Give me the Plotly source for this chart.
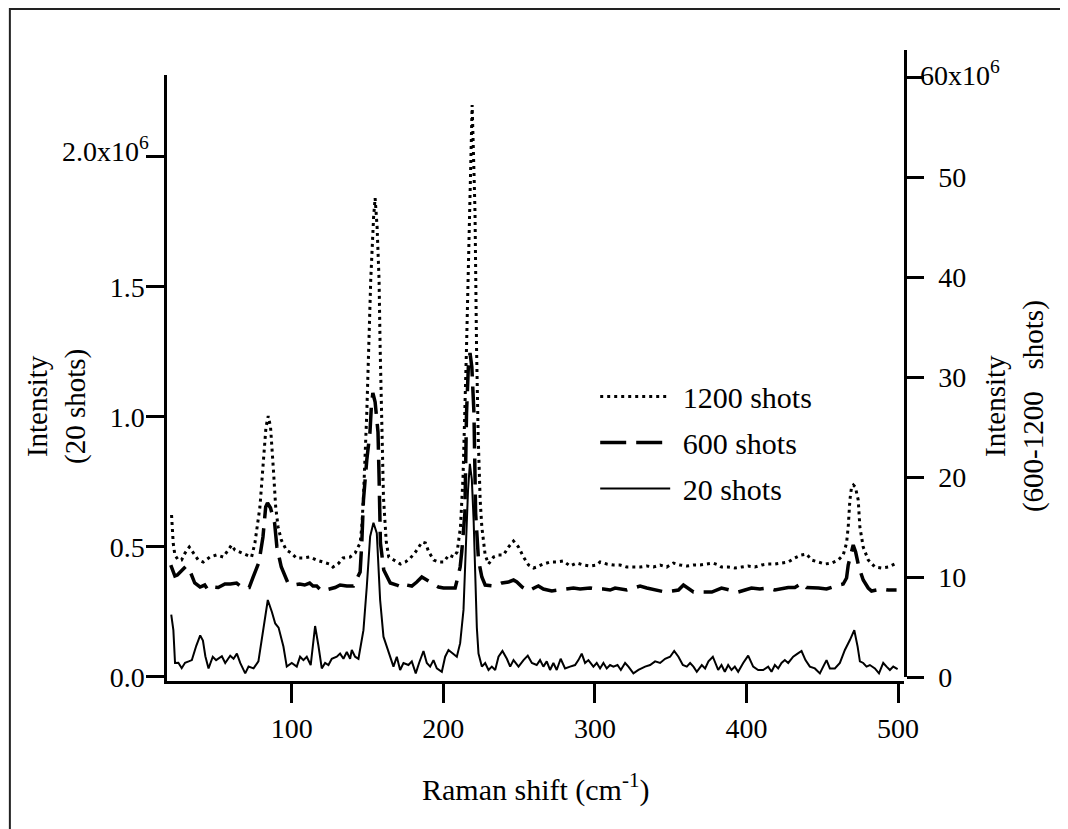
import plotly.graph_objects as go

# Raman shift (cm-1) and intensity (x10^6)
x_20 = [20.5, 21.9, 23.0, 25.2, 27.4, 29.6, 32.0, 34.1, 37.0, 39.6, 41.4, 43.0, 45.1, 47.9, 50.1,
        53.9, 56.1, 59.4, 61.6, 63.8, 66.0, 69.3, 71.5, 74.8, 78.0, 81.4, 84.2, 86.9, 89.1, 91.3,
        94.5, 96.7, 100.0, 103.3, 105.5, 107.7, 109.9, 112.5, 115.4, 117.6, 119.8, 122.0, 124.2,
        126.4, 129.7, 131.9, 134.1, 136.3, 138.5, 139.6, 141.8, 144.0, 146.2, 147.3, 149.5, 151.7,
        153.9, 156.1, 158.3, 160.5, 162.7, 164.9, 167.1, 169.3, 171.5, 173.7, 177.0, 179.2, 181.8,
        184.0, 186.9, 189.1, 191.3, 193.5, 195.7, 199.0, 201.2, 203.4, 206.7, 208.9, 211.1, 213.3,
        214.8, 216.3, 217.5, 218.8, 220.0, 221.0, 222.1, 223.2, 225.4, 227.6, 229.8, 232.0, 234.2,
        236.4, 239.0, 241.9, 244.1, 246.3, 249.6, 252.9, 255.7, 258.4, 261.6, 263.8, 266.0, 268.2,
        270.4, 272.6, 274.8, 277.4, 280.3, 283.6, 286.9, 289.1, 291.3, 293.5, 295.7, 299.0, 301.2,
        303.4, 305.6, 307.8, 310.0, 312.2, 314.9, 317.1, 319.9, 322.1, 325.4, 328.7, 333.1, 336.4,
        339.7, 343.0, 346.3, 349.6, 352.3, 355.1, 358.0, 360.6, 362.8, 365.0, 367.2, 370.5, 372.7,
        374.9, 377.8, 381.3, 383.5, 385.7, 387.9, 390.1, 392.3, 394.5, 397.8, 401.1, 404.4, 407.7,
        411.0, 414.3, 416.5, 418.7, 420.9, 423.1, 425.3, 427.5, 430.8, 433.7, 436.3, 438.9, 441.8,
        445.1, 448.4, 450.6, 452.8, 455.0, 458.3, 461.6, 464.9, 468.2, 471.1, 473.3, 474.8, 477.0,
        479.2, 481.4, 484.7, 487.4, 490.2, 492.4, 494.6, 496.8, 499.7]
y_20 = [0.24, 0.18, 0.054, 0.055, 0.034, 0.055, 0.06, 0.065, 0.12, 0.16, 0.14, 0.08, 0.033, 0.078, 0.065,
        0.08, 0.054, 0.082, 0.07, 0.09, 0.054, 0.014, 0.04, 0.033, 0.06, 0.19, 0.296, 0.25, 0.206, 0.19,
        0.117, 0.04, 0.054, 0.04, 0.078, 0.065, 0.078, 0.046, 0.196, 0.12, 0.033, 0.054, 0.046,
        0.07, 0.078, 0.09, 0.07, 0.096, 0.07, 0.104, 0.078, 0.07, 0.142, 0.18, 0.347, 0.54,
        0.593, 0.553, 0.296, 0.155, 0.117, 0.078, 0.04, 0.078, 0.027, 0.054, 0.046, 0.06, 0.014,
        0.054, 0.1, 0.054, 0.04, 0.065, 0.033, 0.02, 0.078, 0.104, 0.09, 0.078, 0.13, 0.258,
        0.49, 0.72, 0.82, 0.76, 0.6, 0.42, 0.19, 0.09, 0.04, 0.054, 0.027, 0.04, 0.027,
        0.078, 0.1, 0.07, 0.04, 0.065, 0.04, 0.065, 0.082, 0.054, 0.046, 0.065, 0.04, 0.06,
        0.027, 0.054, 0.027, 0.07, 0.033, 0.04, 0.046, 0.065, 0.09, 0.054, 0.065, 0.04, 0.054,
        0.033, 0.054, 0.033, 0.046, 0.04, 0.046, 0.027, 0.054, 0.04, 0.014, 0.027, 0.04, 0.046,
        0.06, 0.054, 0.07, 0.078, 0.1, 0.078, 0.046, 0.04, 0.054, 0.04, 0.02, 0.046, 0.033,
        0.06, 0.078, 0.027, 0.046, 0.02, 0.046, 0.027, 0.04, 0.02, 0.054, 0.082, 0.04, 0.027,
        0.027, 0.04, 0.02, 0.046, 0.033, 0.054, 0.065, 0.054, 0.078, 0.09, 0.1, 0.065, 0.04,
        0.033, 0.014, 0.04, 0.065, 0.033, 0.033, 0.054, 0.104, 0.142, 0.18, 0.117, 0.06, 0.054,
        0.04, 0.046, 0.033, 0.014, 0.054, 0.04, 0.027, 0.04, 0.03]

x_600 = [20.2, 22.9, 24.5, 26.5, 30.4, 32.6, 36.0, 39.5, 42.6, 44.8, 48.2, 51.5, 55.9, 59.5, 63.6,
         67.9, 71.9, 74.5, 78.4, 81.0, 82.8, 84.0, 86.0, 88.7, 90.2, 93.1, 97.5, 101.5, 105.2, 108.5,
         111.8, 114.0, 116.5, 119.8, 124.0, 128.6, 131.9, 136.3, 140.7, 145.1, 146.2, 147.3, 149.5,
         151.6, 152.5, 153.5, 155.0, 156.9, 157.6, 158.5, 160.7, 165.0, 169.3, 173.7, 175.9, 179.2,
         182.5, 185.8, 189.1, 192.4, 196.8, 200.1, 204.0, 207.8, 209.6, 211.1, 212.2, 214.2, 215.3,
         216.5, 217.6, 218.8, 220.2, 221.3, 223.2, 225.4, 227.6, 234.2, 238.6, 243.0, 246.3, 248.5,
         252.0, 256.2, 260.5, 262.7, 266.0, 271.5, 276.0, 280.3, 285.8, 290.2, 296.8, 301.0, 305.6,
         310.0, 313.3, 321.0, 325.5, 329.8, 334.2, 339.7, 346.3, 351.0, 355.1, 358.4, 361.7, 365.0,
         371.0, 377.1, 383.5, 389.0, 394.5, 399.0, 403.3, 408.8, 414.3, 418.7, 423.0, 427.5, 431.9,
         436.7, 439.6, 442.9, 447.5, 452.8, 456.1, 460.5, 463.8, 466.0, 467.1, 469.3, 470.4, 472.0,
         474.1, 477.0, 480.3, 482.5, 489.1, 493.5, 499.0]
y_600 = [11.2, 10.1, 10.2, 10.5, 11.1, 10.7, 9.4, 9.0, 9.2, 8.7, 9.0, 8.95, 9.3, 9.3, 9.4,
         8.9, 8.95, 10.0, 11.5, 14.0, 17.0, 17.4, 16.9, 15.4, 13.0, 11.0, 9.4, 9.2, 9.3, 9.2,
         9.4, 9.1, 9.1, 8.6, 8.8, 8.95, 9.2, 9.1, 9.1, 10.5, 13.4, 17.7, 21.7,
         24.5, 27.0, 28.4, 27.5, 24.5, 20.0, 13.4, 10.7, 9.4, 9.2, 8.9, 9.2, 9.1,
         9.5, 10.0, 9.7, 9.4, 9.0, 8.9, 8.9, 8.9, 10.0, 11.0, 12.6, 16.4, 26.4,
         31.0, 32.4, 31.0, 26.4, 16.4, 11.7, 10.0, 9.2, 9.1, 9.4, 9.5, 9.7, 9.5,
         9.0, 8.6, 8.95, 9.1, 8.8, 8.6, 8.7, 8.8, 8.9, 8.8, 8.9, 8.8, 8.8,
         8.7, 8.9, 8.7, 8.9, 9.1, 8.9, 8.7, 8.5, 8.6, 8.7, 9.2, 8.9, 8.5,
         8.5, 8.5, 8.9, 8.7, 8.5, 8.7, 8.9, 8.8, 8.9, 8.7, 8.8, 8.95, 8.95,
         9.4, 8.95, 8.95, 8.9, 8.8, 9.0, 9.2, 9.3, 9.9, 11.2, 12.7, 13.2, 12.5,
         11.0, 9.7, 8.9, 8.6, 8.8, 8.7, 8.7]

x_1200 = [20.7, 21.8, 22.9, 25.1, 27.3, 29.6, 32.4, 35.0, 38.3, 41.6, 46.0, 50.4, 54.8, 58.1, 60.3,
          62.5, 65.8, 69.8, 73.5, 75.7, 77.3, 79.0, 81.0, 83.0, 84.5, 86.0, 88.0, 89.4, 91.0, 93.1,
          96.4, 99.7, 103.0, 107.4, 111.8, 116.2, 120.6, 125.0, 127.2, 130.5, 133.8, 138.5, 141.8,
          145.1, 146.2, 147.3, 149.5, 150.6, 152.1, 154.0, 155.0, 156.3, 157.6, 158.3, 159.4, 160.5,
          162.3, 164.0, 167.3, 171.7, 175.0, 178.3, 181.6, 186.0, 188.2, 190.4, 193.7, 197.0, 200.3,
          203.6, 206.9, 209.1, 211.3, 213.0, 215.3, 216.5, 217.6, 219.0, 220.3, 220.9, 221.9, 223.0,
          224.3, 225.4, 227.6, 229.8, 233.1, 236.4, 239.7, 243.0, 246.3, 249.6, 252.9, 256.2, 259.5,
          261.6, 266.0, 270.4, 274.8, 279.2, 283.6, 288.0, 292.4, 296.8, 301.2, 303.4, 307.8, 312.2,
          316.6, 321.0, 325.4, 329.8, 334.2, 338.6, 343.0, 347.4, 351.8, 356.2, 360.6, 365.0, 369.4,
          373.8, 377.8, 381.5, 383.5, 387.9, 392.3, 396.7, 401.1, 405.5, 409.9, 414.3, 418.7, 423.1,
          427.5, 431.9, 435.9, 439.6, 442.9, 447.3, 451.7, 456.1, 460.5, 463.8, 466.0, 467.1, 468.2,
          469.3, 470.5, 471.8, 473.7, 474.8, 477.0, 480.3, 484.7, 489.1, 493.5, 499.0]
y_1200 = [16.2, 13.4, 12.2, 11.7, 11.7, 12.4, 13.0, 12.4, 11.7, 11.5, 12.0, 12.2, 12.0, 12.7, 13.2,
          12.7, 12.5, 12.2, 12.0, 13.4, 15.0, 17.0, 21.0, 25.0, 26.1, 25.0, 20.5, 17.0, 15.0, 13.7,
          12.7, 12.4, 11.9, 11.9, 12.0, 11.7, 11.5, 11.3, 11.0, 11.3, 11.9, 12.0, 12.4,
          13.4, 15.0, 18.0, 26.4, 33.0, 39.7, 46.0, 47.9, 45.0, 39.7, 33.0, 26.4, 18.0,
          13.6, 12.0, 11.7, 11.3, 11.5, 11.9, 12.5, 13.5, 13.4, 12.5, 11.7, 11.5, 11.5,
          12.2, 12.0, 12.5, 15.0, 20.0, 33.0, 40.0, 46.4, 57.2, 50.0, 46.4, 33.0, 24.0,
          17.7, 15.0, 12.2, 11.3, 12.0, 12.2, 12.2, 13.0, 13.6, 13.0, 12.0, 11.2, 10.9,
          11.0, 11.3, 11.5, 11.5, 11.6, 11.1, 11.4, 11.2, 11.1, 11.2, 11.5, 11.3, 11.2,
          11.2, 11.0, 11.0, 11.0, 11.1, 11.0, 11.2, 11.0, 11.4, 11.2, 11.1, 11.2, 11.2,
          11.3, 11.4, 11.2, 11.0, 11.0, 10.9, 11.0, 11.1, 11.0, 11.2, 11.3, 11.3, 11.4,
          11.5, 11.9, 12.2, 12.3, 11.7, 11.5, 11.3, 11.4, 11.7, 12.2, 13.4, 15.0, 17.7,
          19.0, 19.2, 19.0, 17.7, 15.0, 13.0, 11.7, 11.0, 10.9, 11.0, 11.4]

x_ticks = [100, 200, 300, 400, 500]
left_ticks = [0, 0.5, 1.0, 1.5, 2.0]
left_labels = ["0.0", "0.5", "1.0", "1.5", ""]
right_ticks = [0, 10, 20, 30, 40, 50, 60]
right_labels = ["0", "10", "20", "30", "40", "50", ""]

FONT = "Liberation Serif"
tick_size = 28
title_size = 29
legend_size = 30

fig = go.Figure()

fig.add_trace(go.Scatter(x=x_1200, y=y_1200, mode="lines", name="\u00a01200 shots",
                         xaxis="x2", yaxis="y2", legendgroup="a",
                         line=dict(color="black", width=3, dash="3px,4px")))
fig.add_trace(go.Scatter(x=x_600, y=y_600, mode="lines", name="\u00a0600 shots",
                         xaxis="x2", yaxis="y2", legendgroup="b",
                         line=dict(color="black", width=3.5, dash="26px,10px")))
fig.add_trace(go.Scatter(x=x_20, y=y_20, mode="lines", name="\u00a020 shots",
                         legendgroup="c",
                         line=dict(color="black", width=2)))

axis_style = dict(showline=True, linecolor="black", linewidth=2.5, ticks="outside",
                  tickcolor="black", tickwidth=2.5, showgrid=False, zeroline=False,
                  tickfont=dict(family=FONT, size=tick_size, color="black"))

# the page body adds an 8px offset, so the figure is drawn 8px smaller
fig.update_layout(
    width=1060, height=821,
    paper_bgcolor="white", plot_bgcolor="rgba(0,0,0,0)",
    margin=dict(l=159, r=164, t=42, b=148),
    font=dict(family=FONT, size=title_size, color="black"),
    xaxis=dict(domain=[0, 1], range=[17.7, 503.9], anchor="y",
               tickvals=x_ticks, ticklen=19, ticklabelstandoff=2, **axis_style),
    xaxis2=dict(domain=[0, 1], range=[17.7, 503.9], anchor="y2", visible=False),
    yaxis=dict(domain=[0, 0.9604], range=[-0.0154, 2.315], anchor="x",
               tickvals=left_ticks, ticktext=left_labels, ticklen=18,
               ticklabelstandoff=-4, **axis_style),
    yaxis2=dict(domain=[0.0063, 1], range=[0, 62.7], anchor="x2", side="right",
                tickvals=right_ticks, ticktext=right_labels, ticklen=17,
                ticklabelstandoff=9, **axis_style),
    showlegend=True,
    legend=dict(x=0.581, y=0.492, xanchor="left", yanchor="top", bgcolor="rgba(0,0,0,0)",
                itemwidth=70, tracegroupgap=4,
                font=dict(family=FONT, size=legend_size, color="black")),
    annotations=[
        dict(text="2.0x10<sup>6</sup>", xref="paper", x=0, xanchor="right", xshift=-16,
             yref="y", y=2.0, yanchor="middle", yshift=7, showarrow=False,
             font=dict(size=tick_size)),
        dict(text="60x10<sup>6</sup>", xref="paper", x=1, xanchor="left", xshift=14,
             yref="y2", y=60, yanchor="middle", yshift=4, showarrow=False,
             font=dict(size=tick_size)),
        dict(text="Intensity<br>(20 shots)", textangle=-90, xref="paper", x=-0.150,
             xanchor="center", yref="paper", y=0.435, yanchor="middle", showarrow=False),
        dict(text="Intensity<br>(600-1200\u00a0\u00a0 shots)", textangle=-90, xref="paper",
             x=1.150, xanchor="center", yref="paper", y=0.435, yanchor="middle",
             showarrow=False),
        dict(text="Raman shift (cm<sup>-1</sup>)", xref="paper", x=0.5, xanchor="center",
             yref="paper", y=-0.168, yanchor="middle", showarrow=False,
             font=dict(size=30)),
    ],
    shapes=[dict(type="rect", xref="paper", yref="paper", x0=-0.2132, x1=1.4,
                 y0=-0.4, y1=1.0650, line=dict(color="#222222", width=2))],
)

fig.write_html("out.html")
